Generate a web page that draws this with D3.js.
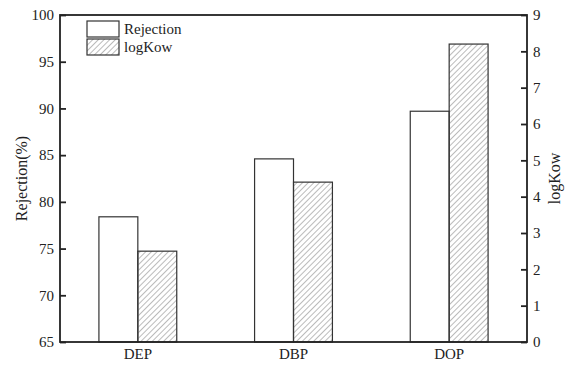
<!DOCTYPE html>
<meta charset="utf-8">
<script src="https://d3js.org/d3.v7.min.js"></script>
<style>
  body { margin: 0; background: #fff; }
  text { font-family: "Liberation Serif", "Times New Roman", serif; fill: #222; }
</style>
<div id="chart"></div>
<script>

// data
var categories = ["DEP", "DBP", "DOP"];
var rejection = [78.4, 84.6, 89.7];
var logKow = [2.5, 4.4, 8.2];
var leftTicks = [65, 70, 75, 80, 85, 90, 95, 100];
var rightTicks = [0, 1, 2, 3, 4, 5, 6, 7, 8, 9];

var W = 571, H = 365;
var margin = {top: 15, right: 44, bottom: 23, left: 60},
    width = W - margin.left - margin.right,
    height = H - margin.top - margin.bottom;

var svg = d3.select("#chart").append("svg")
    .attr("width", W).attr("height", H);

// hatch pattern for logKow bars
var defs = svg.append("defs");
defs.append("pattern")
    .attr("id", "hatch")
    .attr("patternUnits", "userSpaceOnUse")
    .attr("width", 4).attr("height", 4)
    .attr("patternTransform", "rotate(45)")
    .append("line")
    .attr("x1", 0).attr("y1", 0).attr("x2", 0).attr("y2", 4)
    .attr("stroke", "#777").attr("stroke-width", 1);

var g = svg.append("g")
    .attr("transform", "translate(" + margin.left + "," + margin.top + ")");

var x = d3.scaleBand().domain(categories).range([0, width]).paddingInner(0.5).paddingOuter(0.25);
var xs = d3.scaleBand().domain(["rej", "log"]).range([0, x.bandwidth()]);
var yL = d3.scaleLinear().domain([65, 100]).range([height, 0]);
var yR = d3.scaleLinear().domain([0, 9]).range([height, 0]);

// bars
var grp = g.selectAll(".grp").data(categories).enter().append("g")
    .attr("transform", function(d) { return "translate(" + x(d) + ",0)"; });

grp.append("rect")
    .attr("x", xs("rej"))
    .attr("y", function(d, i) { return yL(rejection[i]); })
    .attr("width", xs.bandwidth())
    .attr("height", function(d, i) { return height - yL(rejection[i]); })
    .attr("fill", "#fff").attr("stroke", "#333").attr("stroke-width", 1.2);

grp.append("rect")
    .attr("x", xs("log"))
    .attr("y", function(d, i) { return yR(logKow[i]); })
    .attr("width", xs.bandwidth())
    .attr("height", function(d, i) { return height - yR(logKow[i]); })
    .attr("fill", "url(#hatch)").attr("stroke", "#333").attr("stroke-width", 1.2);

// frame
g.append("rect")
    .attr("width", width).attr("height", height)
    .attr("fill", "none").attr("stroke", "#222").attr("stroke-width", 1.8);

// left axis, ticks inward
var la = g.append("g")
    .call(d3.axisLeft(yL).tickValues(leftTicks).tickSize(-6).tickPadding(6));
la.select(".domain").remove();
la.selectAll("line").attr("stroke", "#222").attr("stroke-width", 1.8);
la.selectAll("text").style("font-size", "15px");

// right axis, ticks inward
var ra = g.append("g")
    .attr("transform", "translate(" + width + ",0)")
    .call(d3.axisRight(yR).tickValues(rightTicks).tickSize(-6).tickPadding(6));
ra.select(".domain").remove();
ra.selectAll("line").attr("stroke", "#222").attr("stroke-width", 1.8);
ra.selectAll("text").style("font-size", "15px");

// x axis labels
var xa = g.append("g")
    .attr("transform", "translate(0," + height + ")")
    .call(d3.axisBottom(x).tickSize(0).tickPadding(6));
xa.select(".domain").remove();
xa.selectAll("text").style("font-size", "15px");

// axis titles
svg.append("text")
    .attr("transform", "translate(27," + (margin.top + height / 2) + ") rotate(-90)")
    .attr("text-anchor", "middle")
    .style("font-size", "16px")
    .text("Rejection(%)");

svg.append("text")
    .attr("transform", "translate(560," + (margin.top + height / 2) + ") rotate(-90)")
    .attr("text-anchor", "middle")
    .style("font-size", "16px")
    .text("logKow");

// legend
var legend = [
  {name: "Rejection", fill: "#fff"},
  {name: "logKow", fill: "url(#hatch)"}
];
var lg = svg.append("g").attr("transform", "translate(87,21)");
var li = lg.selectAll("g").data(legend).enter().append("g")
    .attr("transform", function(d, i) { return "translate(0," + i * 18 + ")"; });
li.append("rect")
    .attr("width", 32).attr("height", 16)
    .attr("fill", function(d) { return d.fill; })
    .attr("stroke", "#333").attr("stroke-width", 1.2);
li.append("text")
    .attr("x", 37).attr("y", 13)
    .style("font-size", "15px")
    .text(function(d) { return d.name; });

</script>
